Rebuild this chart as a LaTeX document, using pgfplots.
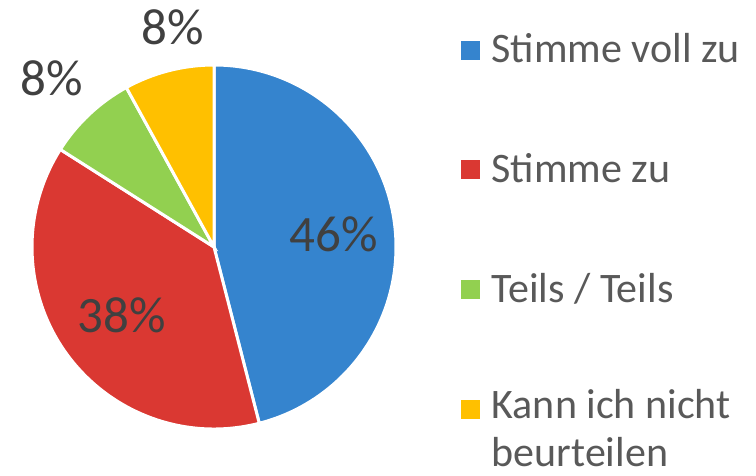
\documentclass[border=0pt]{standalone}
\usepackage{pgfplots}
\usepackage{pgfplotstable}
\pgfplotsset{compat=1.18}
\usepackage{fontspec}
\setmainfont{Carlito}
\definecolor{cBlue}{HTML}{3584CE}
\definecolor{cRed}{HTML}{DA3832}
\definecolor{cGreen}{HTML}{92D050}
\definecolor{cYellow}{HTML}{FFC000}
\definecolor{lbl}{HTML}{404040}
\definecolor{leg}{HTML}{595959}
% pie data: value (percent), colour, label position (pt), legend row centre (pt)
\pgfplotstableread[col sep=comma]{
value,color,lx,ly,sqy,ty
46,cBlue,334,224,425,413
38,cRed,122,143,306,293
8,cGreen,52,380,186,173.5
8,cYellow,172.5,431,66,57
}\piedata
\begin{document}
\begin{tikzpicture}
\begin{axis}[width=756pt,height=476pt,scale only axis,
  xmin=0,xmax=756,ymin=0,ymax=476,hide axis,clip=false]
\path (axis cs:0,0) rectangle (axis cs:756,476);
\pgfplotstablegetrowsof{\piedata}
\pgfmathtruncatemacro{\N}{\pgfplotsretval-1}
\def\startangle{90}
\pgfplotsforeachungrouped \i in {0,...,\N}{%
  \pgfplotstablegetelem{\i}{value}\of\piedata \let\v\pgfplotsretval
  \pgfplotstablegetelem{\i}{color}\of\piedata \let\c\pgfplotsretval
  \pgfplotstablegetelem{\i}{lx}\of\piedata \let\lx\pgfplotsretval
  \pgfplotstablegetelem{\i}{ly}\of\piedata \let\ly\pgfplotsretval
  \pgfplotstablegetelem{\i}{sqy}\of\piedata \let\sqy\pgfplotsretval
  \pgfmathsetmacro{\endangle}{\startangle-3.6*\v}%
  \edef\temp{%
    \noexpand\fill[\c, draw=white, line width=3pt] (axis cs:214,229) -- ++(\startangle:182pt)
      arc[start angle=\startangle, end angle=\endangle, radius=182pt] -- cycle;
    \noexpand\node[anchor=base, inner sep=0pt, text=lbl, font=\noexpand\fontsize{51}{61}\noexpand\selectfont]
      at (axis cs:\lx,\ly) {\v\noexpand\%};
    \noexpand\fill[\c] (axis cs:461,\sqy-9.5) rectangle (axis cs:480,\sqy+9.5);
  }%
  \temp
  \global\let\startangle\endangle
}
\begin{scope}[every node/.style={anchor=base west, inner sep=0pt, text=leg, font=\fontsize{42}{50}\selectfont}]
\node at (axis cs:491.5,413) {Stimme voll zu};
\node at (axis cs:491.5,293) {Stimme zu};
\node at (axis cs:491.5,173.5) {Teils / Teils};
\node at (axis cs:491.5,57) {Kann ich nicht};
\node at (axis cs:491.5,9) {beurteilen};
\end{scope}
\end{axis}
\end{tikzpicture}
\end{document}
